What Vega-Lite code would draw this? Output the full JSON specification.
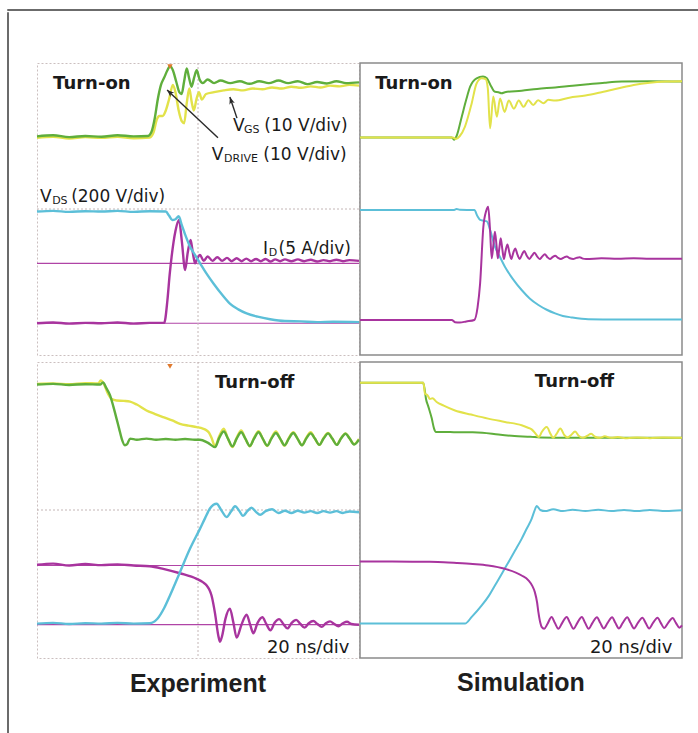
{
"$schema": "https://vega.github.io/schema/vega-lite/v6.json",
"background": "white",
"padding": {"left": 6, "top": 8, "right": 0, "bottom": 0},
"config": {
  "view": {"stroke": null},
  "axis": {"labels": false, "ticks": false, "domain": false, "grid": false, "minExtent": 0, "maxExtent": 0},
  "title": {"font": "Liberation Sans", "fontSize": 25, "fontWeight": "bold", "color": "#1e1e1e", "orient": "bottom", "anchor": "middle", "offset": 13},
  "text": {"font": "DejaVu Sans", "color": "#1a1a1a", "align": "left", "baseline": "alphabetic"},
  "line": {"interpolate": "monotone"}
},
"datasets": {
  "tl": [
    {"s":"VGS","t":0,"v":5.95},{"s":"VGS","t":0.5,"v":5.98},{"s":"VGS","t":1,"v":5.93},{"s":"VGS","t":1.5,"v":5.97},{"s":"VGS","t":2,"v":5.95},{"s":"VGS","t":2.5,"v":5.98},{"s":"VGS","t":3,"v":5.94},{"s":"VGS","t":3.5,"v":5.96},{"s":"VGS","t":3.62,"v":6.1},{"s":"VGS","t":3.72,"v":6.45},{"s":"VGS","t":3.8,"v":6.55},{"s":"VGS","t":3.9,"v":6.55},{"s":"VGS","t":4.0,"v":6.7},{"s":"VGS","t":4.1,"v":7.0},{"s":"VGS","t":4.22,"v":7.4},{"s":"VGS","t":4.3,"v":7.2},{"s":"VGS","t":4.4,"v":6.7},{"s":"VGS","t":4.5,"v":6.4},{"s":"VGS","t":4.57,"v":6.35},{"s":"VGS","t":4.65,"v":6.9},{"s":"VGS","t":4.73,"v":7.3},{"s":"VGS","t":4.8,"v":6.95},{"s":"VGS","t":4.87,"v":6.7},{"s":"VGS","t":4.95,"v":7.0},{"s":"VGS","t":5.03,"v":7.2},{"s":"VGS","t":5.12,"v":7.0},{"s":"VGS","t":5.25,"v":7.15},{"s":"VGS","t":5.5,"v":7.2},{"s":"VGS","t":5.8,"v":7.25},{"s":"VGS","t":6.1,"v":7.28},{"s":"VGS","t":6.4,"v":7.25},{"s":"VGS","t":6.7,"v":7.3},{"s":"VGS","t":7.0,"v":7.28},{"s":"VGS","t":7.3,"v":7.33},{"s":"VGS","t":7.6,"v":7.3},{"s":"VGS","t":7.9,"v":7.35},{"s":"VGS","t":8.2,"v":7.32},{"s":"VGS","t":8.5,"v":7.36},{"s":"VGS","t":8.8,"v":7.33},{"s":"VGS","t":9.1,"v":7.38},{"s":"VGS","t":9.4,"v":7.36},{"s":"VGS","t":9.7,"v":7.4},{"s":"VGS","t":10,"v":7.38},
    {"s":"VDRIVE","t":0,"v":5.99},{"s":"VDRIVE","t":0.5,"v":6.02},{"s":"VDRIVE","t":1,"v":5.97},{"s":"VDRIVE","t":1.5,"v":6.0},{"s":"VDRIVE","t":2,"v":5.98},{"s":"VDRIVE","t":2.5,"v":6.02},{"s":"VDRIVE","t":3,"v":5.99},{"s":"VDRIVE","t":3.45,"v":6.0},{"s":"VDRIVE","t":3.55,"v":6.1},{"s":"VDRIVE","t":3.66,"v":6.5},{"s":"VDRIVE","t":3.75,"v":7.0},{"s":"VDRIVE","t":3.85,"v":7.4},{"s":"VDRIVE","t":3.95,"v":7.6},{"s":"VDRIVE","t":4.05,"v":7.8},{"s":"VDRIVE","t":4.13,"v":7.92},{"s":"VDRIVE","t":4.22,"v":7.8},{"s":"VDRIVE","t":4.32,"v":7.5},{"s":"VDRIVE","t":4.42,"v":7.2},{"s":"VDRIVE","t":4.49,"v":7.15},{"s":"VDRIVE","t":4.57,"v":7.5},{"s":"VDRIVE","t":4.65,"v":7.85},{"s":"VDRIVE","t":4.72,"v":7.6},{"s":"VDRIVE","t":4.8,"v":7.35},{"s":"VDRIVE","t":4.88,"v":7.6},{"s":"VDRIVE","t":4.96,"v":7.8},{"s":"VDRIVE","t":5.05,"v":7.55},{"s":"VDRIVE","t":5.15,"v":7.45},{"s":"VDRIVE","t":5.3,"v":7.55},{"s":"VDRIVE","t":5.5,"v":7.45},{"s":"VDRIVE","t":5.7,"v":7.52},{"s":"VDRIVE","t":6.0,"v":7.45},{"s":"VDRIVE","t":6.3,"v":7.5},{"s":"VDRIVE","t":6.6,"v":7.43},{"s":"VDRIVE","t":6.9,"v":7.5},{"s":"VDRIVE","t":7.2,"v":7.45},{"s":"VDRIVE","t":7.5,"v":7.52},{"s":"VDRIVE","t":7.8,"v":7.45},{"s":"VDRIVE","t":8.1,"v":7.5},{"s":"VDRIVE","t":8.4,"v":7.42},{"s":"VDRIVE","t":8.7,"v":7.48},{"s":"VDRIVE","t":9.0,"v":7.44},{"s":"VDRIVE","t":9.3,"v":7.5},{"s":"VDRIVE","t":9.6,"v":7.45},{"s":"VDRIVE","t":10,"v":7.47},
    {"s":"ID","t":0,"v":0.87},{"s":"ID","t":0.5,"v":0.89},{"s":"ID","t":1,"v":0.86},{"s":"ID","t":1.5,"v":0.88},{"s":"ID","t":2,"v":0.87},{"s":"ID","t":2.5,"v":0.89},{"s":"ID","t":3,"v":0.86},{"s":"ID","t":3.5,"v":0.88},{"s":"ID","t":3.95,"v":0.88},{"s":"ID","t":4.05,"v":1.5},{"s":"ID","t":4.12,"v":2.2},{"s":"ID","t":4.18,"v":2.69},{"s":"ID","t":4.3,"v":3.4},{"s":"ID","t":4.41,"v":3.7},{"s":"ID","t":4.5,"v":3.1},{"s":"ID","t":4.6,"v":2.33},{"s":"ID","t":4.68,"v":2.8},{"s":"ID","t":4.77,"v":3.15},{"s":"ID","t":4.84,"v":2.8},{"s":"ID","t":4.91,"v":2.51},{"s":"ID","t":4.98,"v":2.65},{"s":"ID","t":5.06,"v":2.74},{"s":"ID","t":5.18,"v":2.58},{"s":"ID","t":5.3,"v":2.7},{"s":"ID","t":5.45,"v":2.58},{"s":"ID","t":5.6,"v":2.68},{"s":"ID","t":5.75,"v":2.58},{"s":"ID","t":5.9,"v":2.66},{"s":"ID","t":6.05,"v":2.57},{"s":"ID","t":6.2,"v":2.65},{"s":"ID","t":6.35,"v":2.57},{"s":"ID","t":6.5,"v":2.64},{"s":"ID","t":6.65,"v":2.57},{"s":"ID","t":6.8,"v":2.63},{"s":"ID","t":6.95,"v":2.57},{"s":"ID","t":7.1,"v":2.63},{"s":"ID","t":7.25,"v":2.56},{"s":"ID","t":7.4,"v":2.62},{"s":"ID","t":7.55,"v":2.57},{"s":"ID","t":7.7,"v":2.62},{"s":"ID","t":7.9,"v":2.57},{"s":"ID","t":8.1,"v":2.62},{"s":"ID","t":8.3,"v":2.57},{"s":"ID","t":8.5,"v":2.61},{"s":"ID","t":8.7,"v":2.56},{"s":"ID","t":8.9,"v":2.6},{"s":"ID","t":9.1,"v":2.57},{"s":"ID","t":9.3,"v":2.61},{"s":"ID","t":9.5,"v":2.57},{"s":"ID","t":9.7,"v":2.6},{"s":"ID","t":10,"v":2.58},
    {"s":"VDS","t":0,"v":3.93},{"s":"VDS","t":0.5,"v":3.95},{"s":"VDS","t":1,"v":3.92},{"s":"VDS","t":1.5,"v":3.94},{"s":"VDS","t":2,"v":3.93},{"s":"VDS","t":2.5,"v":3.95},{"s":"VDS","t":3,"v":3.92},{"s":"VDS","t":3.5,"v":3.94},{"s":"VDS","t":4.0,"v":3.93},{"s":"VDS","t":4.1,"v":3.82},{"s":"VDS","t":4.2,"v":3.7},{"s":"VDS","t":4.3,"v":3.72},{"s":"VDS","t":4.4,"v":3.8},{"s":"VDS","t":4.5,"v":3.55},{"s":"VDS","t":4.6,"v":3.3},{"s":"VDS","t":4.75,"v":2.97},{"s":"VDS","t":4.9,"v":2.75},{"s":"VDS","t":5.06,"v":2.52},{"s":"VDS","t":5.25,"v":2.25},{"s":"VDS","t":5.48,"v":1.96},{"s":"VDS","t":5.75,"v":1.65},{"s":"VDS","t":5.99,"v":1.41},{"s":"VDS","t":6.25,"v":1.25},{"s":"VDS","t":6.51,"v":1.14},{"s":"VDS","t":6.85,"v":1.05},{"s":"VDS","t":7.24,"v":0.98},{"s":"VDS","t":7.7,"v":0.93},{"s":"VDS","t":8.2,"v":0.92},{"s":"VDS","t":8.7,"v":0.9},{"s":"VDS","t":9.2,"v":0.91},{"s":"VDS","t":10,"v":0.9}
  ],
  "tr": [
    {"s":"VDRIVE","t":0,"v":5.96},{"s":"VDRIVE","t":2.85,"v":5.96},{"s":"VDRIVE","t":2.92,"v":5.9},{"s":"VDRIVE","t":3.0,"v":6.0},{"s":"VDRIVE","t":3.16,"v":6.53},{"s":"VDRIVE","t":3.3,"v":7.0},{"s":"VDRIVE","t":3.42,"v":7.35},{"s":"VDRIVE","t":3.62,"v":7.58},{"s":"VDRIVE","t":3.82,"v":7.63},{"s":"VDRIVE","t":3.94,"v":7.58},{"s":"VDRIVE","t":4.05,"v":7.4},{"s":"VDRIVE","t":4.19,"v":7.21},{"s":"VDRIVE","t":4.3,"v":7.2},{"s":"VDRIVE","t":4.4,"v":7.17},{"s":"VDRIVE","t":4.5,"v":7.2},{"s":"VDRIVE","t":5.02,"v":7.24},{"s":"VDRIVE","t":5.5,"v":7.29},{"s":"VDRIVE","t":6.06,"v":7.33},{"s":"VDRIVE","t":6.6,"v":7.38},{"s":"VDRIVE","t":7.09,"v":7.42},{"s":"VDRIVE","t":7.6,"v":7.46},{"s":"VDRIVE","t":8.13,"v":7.49},{"s":"VDRIVE","t":9,"v":7.5},{"s":"VDRIVE","t":10,"v":7.49},
    {"s":"VGS","t":0,"v":5.96},{"s":"VGS","t":2.88,"v":5.96},{"s":"VGS","t":2.98,"v":5.92},{"s":"VGS","t":3.1,"v":6.0},{"s":"VGS","t":3.26,"v":6.26},{"s":"VGS","t":3.47,"v":6.9},{"s":"VGS","t":3.62,"v":7.44},{"s":"VGS","t":3.78,"v":7.58},{"s":"VGS","t":3.9,"v":7.56},{"s":"VGS","t":3.97,"v":7.3},{"s":"VGS","t":4.04,"v":6.21},{"s":"VGS","t":4.14,"v":7.08},{"s":"VGS","t":4.25,"v":6.53},{"s":"VGS","t":4.35,"v":7.03},{"s":"VGS","t":4.49,"v":6.66},{"s":"VGS","t":4.62,"v":6.97},{"s":"VGS","t":4.78,"v":6.75},{"s":"VGS","t":4.93,"v":6.97},{"s":"VGS","t":5.08,"v":6.8},{"s":"VGS","t":5.23,"v":6.98},{"s":"VGS","t":5.38,"v":6.85},{"s":"VGS","t":5.53,"v":6.98},{"s":"VGS","t":5.7,"v":6.9},{"s":"VGS","t":5.85,"v":6.99},{"s":"VGS","t":6.06,"v":6.97},{"s":"VGS","t":6.5,"v":7.05},{"s":"VGS","t":7.0,"v":7.11},{"s":"VGS","t":7.5,"v":7.2},{"s":"VGS","t":8.0,"v":7.3},{"s":"VGS","t":8.5,"v":7.4},{"s":"VGS","t":9.0,"v":7.46},{"s":"VGS","t":9.5,"v":7.49},{"s":"VGS","t":10,"v":7.5},
    {"s":"VDS","t":0,"v":3.97},{"s":"VDS","t":2.9,"v":3.97},{"s":"VDS","t":3.0,"v":4.0},{"s":"VDS","t":3.1,"v":3.98},{"s":"VDS","t":3.55,"v":3.97},{"s":"VDS","t":3.65,"v":3.8},{"s":"VDS","t":3.73,"v":3.7},{"s":"VDS","t":3.83,"v":3.68},{"s":"VDS","t":3.94,"v":3.66},{"s":"VDS","t":4.05,"v":3.4},{"s":"VDS","t":4.19,"v":2.97},{"s":"VDS","t":4.35,"v":2.68},{"s":"VDS","t":4.5,"v":2.42},{"s":"VDS","t":4.75,"v":2.08},{"s":"VDS","t":5.02,"v":1.78},{"s":"VDS","t":5.27,"v":1.55},{"s":"VDS","t":5.54,"v":1.37},{"s":"VDS","t":5.8,"v":1.24},{"s":"VDS","t":6.06,"v":1.14},{"s":"VDS","t":6.3,"v":1.07},{"s":"VDS","t":6.57,"v":1.03},{"s":"VDS","t":7.09,"v":0.98},{"s":"VDS","t":8,"v":0.97},{"s":"VDS","t":10,"v":0.97},
    {"s":"ID","t":0,"v":0.96},{"s":"ID","t":2.85,"v":0.96},{"s":"ID","t":2.95,"v":0.9},{"s":"ID","t":3.1,"v":0.89},{"s":"ID","t":3.3,"v":0.92},{"s":"ID","t":3.55,"v":0.96},{"s":"ID","t":3.65,"v":1.3},{"s":"ID","t":3.73,"v":1.96},{"s":"ID","t":3.83,"v":3.5},{"s":"ID","t":3.92,"v":3.95},{"s":"ID","t":3.98,"v":4.06},{"s":"ID","t":4.04,"v":3.4},{"s":"ID","t":4.09,"v":2.65},{"s":"ID","t":4.14,"v":3.0},{"s":"ID","t":4.19,"v":3.38},{"s":"ID","t":4.24,"v":3.0},{"s":"ID","t":4.28,"v":2.65},{"s":"ID","t":4.33,"v":2.95},{"s":"ID","t":4.37,"v":3.2},{"s":"ID","t":4.42,"v":2.9},{"s":"ID","t":4.47,"v":2.63},{"s":"ID","t":4.52,"v":2.85},{"s":"ID","t":4.58,"v":3.03},{"s":"ID","t":4.64,"v":2.8},{"s":"ID","t":4.7,"v":2.63},{"s":"ID","t":4.76,"v":2.8},{"s":"ID","t":4.82,"v":2.92},{"s":"ID","t":4.89,"v":2.75},{"s":"ID","t":4.96,"v":2.63},{"s":"ID","t":5.03,"v":2.75},{"s":"ID","t":5.1,"v":2.85},{"s":"ID","t":5.18,"v":2.72},{"s":"ID","t":5.26,"v":2.63},{"s":"ID","t":5.34,"v":2.72},{"s":"ID","t":5.42,"v":2.8},{"s":"ID","t":5.5,"v":2.7},{"s":"ID","t":5.58,"v":2.63},{"s":"ID","t":5.66,"v":2.7},{"s":"ID","t":5.74,"v":2.76},{"s":"ID","t":5.82,"v":2.68},{"s":"ID","t":5.9,"v":2.63},{"s":"ID","t":5.98,"v":2.68},{"s":"ID","t":6.06,"v":2.72},{"s":"ID","t":6.15,"v":2.66},{"s":"ID","t":6.24,"v":2.63},{"s":"ID","t":6.33,"v":2.67},{"s":"ID","t":6.42,"v":2.7},{"s":"ID","t":6.52,"v":2.65},{"s":"ID","t":6.62,"v":2.63},{"s":"ID","t":6.72,"v":2.66},{"s":"ID","t":6.82,"v":2.68},{"s":"ID","t":6.92,"v":2.64},{"s":"ID","t":7.02,"v":2.63},{"s":"ID","t":7.5,"v":2.65},{"s":"ID","t":8,"v":2.64},{"s":"ID","t":8.5,"v":2.65},{"s":"ID","t":9,"v":2.64},{"s":"ID","t":10,"v":2.64}
  ],
  "bl": [
    {"s":"VGS","t":0,"v":7.41},{"s":"VGS","t":0.5,"v":7.42},{"s":"VGS","t":1,"v":7.4},{"s":"VGS","t":1.5,"v":7.43},{"s":"VGS","t":1.9,"v":7.42},{"s":"VGS","t":1.98,"v":7.5},{"s":"VGS","t":2.08,"v":7.4},{"s":"VGS","t":2.2,"v":7.15},{"s":"VGS","t":2.32,"v":7.0},{"s":"VGS","t":2.47,"v":6.96},{"s":"VGS","t":2.7,"v":6.95},{"s":"VGS","t":2.89,"v":6.93},{"s":"VGS","t":3.1,"v":6.85},{"s":"VGS","t":3.4,"v":6.69},{"s":"VGS","t":3.65,"v":6.6},{"s":"VGS","t":3.92,"v":6.51},{"s":"VGS","t":4.2,"v":6.42},{"s":"VGS","t":4.44,"v":6.33},{"s":"VGS","t":4.7,"v":6.28},{"s":"VGS","t":4.96,"v":6.24},{"s":"VGS","t":5.15,"v":6.2},{"s":"VGS","t":5.27,"v":6.15},{"s":"VGS","t":5.35,"v":6.08},{"s":"VGS","t":5.42,"v":5.95},{"s":"VGS","t":5.53,"v":5.72},{"s":"VGS","t":5.66,"v":6.0},{"s":"VGS","t":5.8,"v":6.2},{"s":"VGS","t":5.93,"v":5.93},{"s":"VGS","t":6.07,"v":5.7},{"s":"VGS","t":6.2,"v":5.95},{"s":"VGS","t":6.34,"v":6.15},{"s":"VGS","t":6.47,"v":5.93},{"s":"VGS","t":6.61,"v":5.72},{"s":"VGS","t":6.74,"v":5.95},{"s":"VGS","t":6.88,"v":6.13},{"s":"VGS","t":7.01,"v":5.93},{"s":"VGS","t":7.15,"v":5.73},{"s":"VGS","t":7.28,"v":5.95},{"s":"VGS","t":7.42,"v":6.12},{"s":"VGS","t":7.55,"v":5.93},{"s":"VGS","t":7.69,"v":5.74},{"s":"VGS","t":7.82,"v":5.95},{"s":"VGS","t":7.96,"v":6.1},{"s":"VGS","t":8.09,"v":5.93},{"s":"VGS","t":8.23,"v":5.75},{"s":"VGS","t":8.36,"v":5.95},{"s":"VGS","t":8.5,"v":6.1},{"s":"VGS","t":8.63,"v":5.93},{"s":"VGS","t":8.77,"v":5.76},{"s":"VGS","t":8.9,"v":5.95},{"s":"VGS","t":9.04,"v":6.08},{"s":"VGS","t":9.17,"v":5.93},{"s":"VGS","t":9.31,"v":5.77},{"s":"VGS","t":9.44,"v":5.94},{"s":"VGS","t":9.58,"v":6.07},{"s":"VGS","t":9.71,"v":5.93},{"s":"VGS","t":9.85,"v":5.78},{"s":"VGS","t":10,"v":5.92},
    {"s":"VDRIVE","t":0,"v":7.39},{"s":"VDRIVE","t":0.5,"v":7.41},{"s":"VDRIVE","t":1,"v":7.38},{"s":"VDRIVE","t":1.5,"v":7.4},{"s":"VDRIVE","t":1.96,"v":7.39},{"s":"VDRIVE","t":2.05,"v":7.45},{"s":"VDRIVE","t":2.15,"v":7.3},{"s":"VDRIVE","t":2.27,"v":7.1},{"s":"VDRIVE","t":2.37,"v":6.8},{"s":"VDRIVE","t":2.47,"v":6.47},{"s":"VDRIVE","t":2.55,"v":6.2},{"s":"VDRIVE","t":2.63,"v":5.93},{"s":"VDRIVE","t":2.73,"v":5.75},{"s":"VDRIVE","t":2.8,"v":5.78},{"s":"VDRIVE","t":2.89,"v":5.93},{"s":"VDRIVE","t":3.1,"v":5.9},{"s":"VDRIVE","t":3.4,"v":5.93},{"s":"VDRIVE","t":3.7,"v":5.9},{"s":"VDRIVE","t":4.0,"v":5.92},{"s":"VDRIVE","t":4.3,"v":5.9},{"s":"VDRIVE","t":4.6,"v":5.92},{"s":"VDRIVE","t":4.9,"v":5.9},{"s":"VDRIVE","t":5.06,"v":5.9},{"s":"VDRIVE","t":5.3,"v":5.82},{"s":"VDRIVE","t":5.53,"v":5.7},{"s":"VDRIVE","t":5.66,"v":5.95},{"s":"VDRIVE","t":5.8,"v":6.12},{"s":"VDRIVE","t":5.93,"v":5.93},{"s":"VDRIVE","t":6.07,"v":5.72},{"s":"VDRIVE","t":6.2,"v":5.93},{"s":"VDRIVE","t":6.34,"v":6.1},{"s":"VDRIVE","t":6.47,"v":5.93},{"s":"VDRIVE","t":6.61,"v":5.73},{"s":"VDRIVE","t":6.74,"v":5.93},{"s":"VDRIVE","t":6.88,"v":6.1},{"s":"VDRIVE","t":7.01,"v":5.93},{"s":"VDRIVE","t":7.15,"v":5.74},{"s":"VDRIVE","t":7.28,"v":5.93},{"s":"VDRIVE","t":7.42,"v":6.08},{"s":"VDRIVE","t":7.55,"v":5.93},{"s":"VDRIVE","t":7.69,"v":5.75},{"s":"VDRIVE","t":7.82,"v":5.93},{"s":"VDRIVE","t":7.96,"v":6.08},{"s":"VDRIVE","t":8.09,"v":5.93},{"s":"VDRIVE","t":8.23,"v":5.75},{"s":"VDRIVE","t":8.36,"v":5.93},{"s":"VDRIVE","t":8.5,"v":6.07},{"s":"VDRIVE","t":8.63,"v":5.93},{"s":"VDRIVE","t":8.77,"v":5.76},{"s":"VDRIVE","t":8.9,"v":5.93},{"s":"VDRIVE","t":9.04,"v":6.07},{"s":"VDRIVE","t":9.17,"v":5.93},{"s":"VDRIVE","t":9.31,"v":5.76},{"s":"VDRIVE","t":9.44,"v":5.93},{"s":"VDRIVE","t":9.58,"v":6.06},{"s":"VDRIVE","t":9.71,"v":5.93},{"s":"VDRIVE","t":9.85,"v":5.77},{"s":"VDRIVE","t":10,"v":5.9},
    {"s":"ID","t":0,"v":2.52},{"s":"ID","t":0.5,"v":2.55},{"s":"ID","t":1,"v":2.5},{"s":"ID","t":1.5,"v":2.54},{"s":"ID","t":2,"v":2.51},{"s":"ID","t":2.5,"v":2.53},{"s":"ID","t":3,"v":2.5},{"s":"ID","t":3.5,"v":2.48},{"s":"ID","t":3.92,"v":2.41},{"s":"ID","t":4.44,"v":2.29},{"s":"ID","t":4.96,"v":2.14},{"s":"ID","t":5.15,"v":2.05},{"s":"ID","t":5.27,"v":1.96},{"s":"ID","t":5.35,"v":1.85},{"s":"ID","t":5.42,"v":1.69},{"s":"ID","t":5.53,"v":1.2},{"s":"ID","t":5.63,"v":0.61},{"s":"ID","t":5.68,"v":0.44},{"s":"ID","t":5.75,"v":0.6},{"s":"ID","t":5.85,"v":1.05},{"s":"ID","t":5.99,"v":1.33},{"s":"ID","t":6.1,"v":0.95},{"s":"ID","t":6.2,"v":0.55},{"s":"ID","t":6.35,"v":0.9},{"s":"ID","t":6.51,"v":1.17},{"s":"ID","t":6.62,"v":0.9},{"s":"ID","t":6.72,"v":0.67},{"s":"ID","t":6.85,"v":0.95},{"s":"ID","t":7.0,"v":1.1},{"s":"ID","t":7.12,"v":0.92},{"s":"ID","t":7.25,"v":0.75},{"s":"ID","t":7.38,"v":0.95},{"s":"ID","t":7.52,"v":1.05},{"s":"ID","t":7.65,"v":0.92},{"s":"ID","t":7.78,"v":0.8},{"s":"ID","t":7.91,"v":0.95},{"s":"ID","t":8.05,"v":1.03},{"s":"ID","t":8.18,"v":0.92},{"s":"ID","t":8.31,"v":0.82},{"s":"ID","t":8.44,"v":0.94},{"s":"ID","t":8.58,"v":1.0},{"s":"ID","t":8.71,"v":0.92},{"s":"ID","t":8.84,"v":0.84},{"s":"ID","t":8.97,"v":0.94},{"s":"ID","t":9.1,"v":0.99},{"s":"ID","t":9.23,"v":0.92},{"s":"ID","t":9.36,"v":0.86},{"s":"ID","t":9.5,"v":0.94},{"s":"ID","t":9.63,"v":0.98},{"s":"ID","t":9.76,"v":0.92},{"s":"ID","t":10,"v":0.9},
    {"s":"VDS","t":0,"v":0.93},{"s":"VDS","t":0.5,"v":0.95},{"s":"VDS","t":1,"v":0.92},{"s":"VDS","t":1.5,"v":0.94},{"s":"VDS","t":2,"v":0.93},{"s":"VDS","t":2.5,"v":0.95},{"s":"VDS","t":3,"v":0.93},{"s":"VDS","t":3.5,"v":0.94},{"s":"VDS","t":3.74,"v":1.06},{"s":"VDS","t":3.95,"v":1.35},{"s":"VDS","t":4.13,"v":1.69},{"s":"VDS","t":4.44,"v":2.32},{"s":"VDS","t":4.75,"v":2.95},{"s":"VDS","t":5.06,"v":3.49},{"s":"VDS","t":5.22,"v":3.78},{"s":"VDS","t":5.37,"v":4.04},{"s":"VDS","t":5.48,"v":4.14},{"s":"VDS","t":5.58,"v":4.17},{"s":"VDS","t":5.72,"v":4.0},{"s":"VDS","t":5.89,"v":3.81},{"s":"VDS","t":6.02,"v":3.95},{"s":"VDS","t":6.15,"v":4.1},{"s":"VDS","t":6.28,"v":3.98},{"s":"VDS","t":6.4,"v":3.84},{"s":"VDS","t":6.53,"v":3.97},{"s":"VDS","t":6.66,"v":4.06},{"s":"VDS","t":6.8,"v":3.95},{"s":"VDS","t":6.93,"v":3.87},{"s":"VDS","t":7.1,"v":3.97},{"s":"VDS","t":7.3,"v":4.02},{"s":"VDS","t":7.5,"v":3.92},{"s":"VDS","t":7.7,"v":3.98},{"s":"VDS","t":7.9,"v":3.92},{"s":"VDS","t":8.1,"v":3.98},{"s":"VDS","t":8.3,"v":3.93},{"s":"VDS","t":8.5,"v":3.97},{"s":"VDS","t":8.7,"v":3.92},{"s":"VDS","t":8.9,"v":3.97},{"s":"VDS","t":9.1,"v":3.93},{"s":"VDS","t":9.3,"v":3.97},{"s":"VDS","t":9.5,"v":3.92},{"s":"VDS","t":9.7,"v":3.96},{"s":"VDS","t":10,"v":3.94}
  ],
  "br": [
    {"s":"VDRIVE","t":0,"v":7.44},{"s":"VDRIVE","t":1.96,"v":7.44},{"s":"VDRIVE","t":2.0,"v":7.3},{"s":"VDRIVE","t":2.05,"v":7.0},{"s":"VDRIVE","t":2.12,"v":6.8},{"s":"VDRIVE","t":2.23,"v":6.47},{"s":"VDRIVE","t":2.3,"v":6.2},{"s":"VDRIVE","t":2.36,"v":6.11},{"s":"VDRIVE","t":2.6,"v":6.11},{"s":"VDRIVE","t":3.0,"v":6.1},{"s":"VDRIVE","t":3.5,"v":6.1},{"s":"VDRIVE","t":3.8,"v":6.09},{"s":"VDRIVE","t":4.3,"v":6.04},{"s":"VDRIVE","t":4.8,"v":6.0},{"s":"VDRIVE","t":5.3,"v":5.98},{"s":"VDRIVE","t":5.6,"v":5.96},{"s":"VDRIVE","t":6.5,"v":5.95},{"s":"VDRIVE","t":8,"v":5.95},{"s":"VDRIVE","t":10,"v":5.95},
    {"s":"VGS","t":0,"v":7.44},{"s":"VGS","t":1.97,"v":7.44},{"s":"VGS","t":2.02,"v":7.14},{"s":"VGS","t":2.1,"v":7.1},{"s":"VGS","t":2.17,"v":7.0},{"s":"VGS","t":2.25,"v":7.02},{"s":"VGS","t":2.38,"v":6.92},{"s":"VGS","t":2.6,"v":6.82},{"s":"VGS","t":2.95,"v":6.69},{"s":"VGS","t":3.45,"v":6.58},{"s":"VGS","t":3.98,"v":6.47},{"s":"VGS","t":4.5,"v":6.38},{"s":"VGS","t":5.02,"v":6.29},{"s":"VGS","t":5.2,"v":6.23},{"s":"VGS","t":5.33,"v":6.18},{"s":"VGS","t":5.42,"v":6.1},{"s":"VGS","t":5.49,"v":6.02},{"s":"VGS","t":5.56,"v":5.97},{"s":"VGS","t":5.64,"v":6.1},{"s":"VGS","t":5.8,"v":6.24},{"s":"VGS","t":5.92,"v":6.05},{"s":"VGS","t":6.0,"v":5.95},{"s":"VGS","t":6.1,"v":6.05},{"s":"VGS","t":6.22,"v":6.2},{"s":"VGS","t":6.35,"v":6.02},{"s":"VGS","t":6.45,"v":5.96},{"s":"VGS","t":6.55,"v":6.02},{"s":"VGS","t":6.68,"v":6.12},{"s":"VGS","t":6.8,"v":6.0},{"s":"VGS","t":6.92,"v":5.95},{"s":"VGS","t":7.05,"v":6.0},{"s":"VGS","t":7.18,"v":6.06},{"s":"VGS","t":7.3,"v":5.98},{"s":"VGS","t":7.45,"v":5.95},{"s":"VGS","t":7.6,"v":5.99},{"s":"VGS","t":7.8,"v":5.95},{"s":"VGS","t":8.0,"v":5.97},{"s":"VGS","t":8.3,"v":5.94},{"s":"VGS","t":8.6,"v":5.96},{"s":"VGS","t":9.0,"v":5.94},{"s":"VGS","t":9.4,"v":5.96},{"s":"VGS","t":10,"v":5.95},
    {"s":"VDS","t":0,"v":0.93},{"s":"VDS","t":3.26,"v":0.93},{"s":"VDS","t":3.47,"v":1.11},{"s":"VDS","t":3.78,"v":1.42},{"s":"VDS","t":4.0,"v":1.68},{"s":"VDS","t":4.19,"v":1.96},{"s":"VDS","t":4.4,"v":2.27},{"s":"VDS","t":4.61,"v":2.59},{"s":"VDS","t":4.82,"v":2.91},{"s":"VDS","t":5.02,"v":3.22},{"s":"VDS","t":5.18,"v":3.5},{"s":"VDS","t":5.33,"v":3.76},{"s":"VDS","t":5.42,"v":3.98},{"s":"VDS","t":5.49,"v":4.11},{"s":"VDS","t":5.6,"v":4.0},{"s":"VDS","t":5.75,"v":3.97},{"s":"VDS","t":6.0,"v":4.02},{"s":"VDS","t":6.3,"v":3.97},{"s":"VDS","t":6.6,"v":4.01},{"s":"VDS","t":7,"v":3.97},{"s":"VDS","t":7.4,"v":4.01},{"s":"VDS","t":7.8,"v":3.97},{"s":"VDS","t":8.2,"v":4.0},{"s":"VDS","t":8.6,"v":3.97},{"s":"VDS","t":9,"v":4.0},{"s":"VDS","t":9.5,"v":3.97},{"s":"VDS","t":10,"v":3.99},
    {"s":"ID","t":0,"v":2.61},{"s":"ID","t":1,"v":2.61},{"s":"ID","t":2,"v":2.6},{"s":"ID","t":2.6,"v":2.59},{"s":"ID","t":3.0,"v":2.57},{"s":"ID","t":3.5,"v":2.54},{"s":"ID","t":3.98,"v":2.5},{"s":"ID","t":4.5,"v":2.41},{"s":"ID","t":5.02,"v":2.23},{"s":"ID","t":5.23,"v":2.1},{"s":"ID","t":5.35,"v":1.95},{"s":"ID","t":5.43,"v":1.78},{"s":"ID","t":5.5,"v":1.5},{"s":"ID","t":5.54,"v":1.24},{"s":"ID","t":5.6,"v":0.95},{"s":"ID","t":5.64,"v":0.84},{"s":"ID","t":5.72,"v":0.79},{"s":"ID","t":5.82,"v":0.92},{"s":"ID","t":5.95,"v":1.11},{"s":"ID","t":6.05,"v":0.95},{"s":"ID","t":6.16,"v":0.79},{"s":"ID","t":6.28,"v":0.95},{"s":"ID","t":6.42,"v":1.11},{"s":"ID","t":6.52,"v":0.95},{"s":"ID","t":6.63,"v":0.79},{"s":"ID","t":6.75,"v":0.95},{"s":"ID","t":6.89,"v":1.11},{"s":"ID","t":6.99,"v":0.95},{"s":"ID","t":7.1,"v":0.79},{"s":"ID","t":7.22,"v":0.95},{"s":"ID","t":7.36,"v":1.1},{"s":"ID","t":7.46,"v":0.95},{"s":"ID","t":7.57,"v":0.8},{"s":"ID","t":7.69,"v":0.95},{"s":"ID","t":7.83,"v":1.1},{"s":"ID","t":7.93,"v":0.95},{"s":"ID","t":8.04,"v":0.8},{"s":"ID","t":8.16,"v":0.95},{"s":"ID","t":8.3,"v":1.1},{"s":"ID","t":8.4,"v":0.95},{"s":"ID","t":8.51,"v":0.8},{"s":"ID","t":8.63,"v":0.95},{"s":"ID","t":8.77,"v":1.09},{"s":"ID","t":8.87,"v":0.95},{"s":"ID","t":8.98,"v":0.8},{"s":"ID","t":9.1,"v":0.95},{"s":"ID","t":9.24,"v":1.09},{"s":"ID","t":9.34,"v":0.95},{"s":"ID","t":9.45,"v":0.81},{"s":"ID","t":9.57,"v":0.95},{"s":"ID","t":9.71,"v":1.08},{"s":"ID","t":9.81,"v":0.95},{"s":"ID","t":9.92,"v":0.82},{"s":"ID","t":10,"v":0.88}
  ]
},
"spacing": 0,
"vconcat": [
  {"width": 692, "height": 1, "data": {"values": []}, "mark": "point", "encoding": {}, "view": {"stroke": "#6b6b6b", "strokeWidth": 1}},
  {"spacing": 22, "hconcat": [
    {"width": 1, "height": 724, "data": {"values": []}, "mark": "point", "encoding": {}, "view": {"stroke": "#6b6b6b", "strokeWidth": 1}},
    {"spacing": 5, "vconcat": [
      {"width": 1, "height": 43, "data": {"values": []}, "mark": "point", "encoding": {}},
      {"spacing": 1, "bounds": "flush", "hconcat": [
        {"width": 322, "height": 292,
         "view": {"stroke": "#cbbfbf", "strokeDash": [2, 2], "strokeWidth": 1},
         "layer": [
           {"data": {"values": [{"v": 2.51}, {"v": 0.87}]}, "mark": {"type": "rule", "color": "#b044a6", "strokeWidth": 1.2},
            "encoding": {"y": {"field": "v", "type": "quantitative", "scale": {"domain": [0, 8], "nice": false, "zero": false}, "axis": null}}},
           {"data": {"values": [{"t": 5}]}, "mark": {"type": "rule", "color": "#c4b6b6", "strokeDash": [2, 2], "strokeWidth": 1},
            "encoding": {"x": {"field": "t", "type": "quantitative", "scale": {"domain": [0, 10], "nice": false, "zero": false}, "axis": null}}},
           {"data": {"values": [{"v": 4}]}, "mark": {"type": "rule", "color": "#c4b6b6", "strokeDash": [2, 2], "strokeWidth": 1},
            "encoding": {"y": {"field": "v", "type": "quantitative", "scale": {"domain": [0, 8], "nice": false, "zero": false}, "axis": null}}},
           {"data": {"name": "tl"}, "mark": {"type": "line", "strokeWidth": 2.4},
            "encoding": {
              "x": {"field": "t", "type": "quantitative", "scale": {"domain": [0, 10], "nice": false, "zero": false}, "axis": null},
              "y": {"field": "v", "type": "quantitative", "scale": {"domain": [0, 8], "nice": false, "zero": false}, "axis": null},
              "color": {"field": "s", "type": "nominal", "scale": {"domain": ["VDRIVE", "VGS", "VDS", "ID"], "range": ["#5fae3c", "#e2e24a", "#5cbfd8", "#a8349e"]}, "legend": null}}},
           {"data": {"values": [{"t": 5.62, "v": 5.95, "t2": 4.04, "v2": 7.26}, {"t": 6.21, "v": 6.49, "t2": 5.99, "v2": 7.07}]}, "mark": {"type": "rule", "color": "#2a2a2a", "strokeWidth": 1.4},
            "encoding": {
              "x": {"field": "t", "type": "quantitative", "scale": {"domain": [0, 10], "nice": false, "zero": false}, "axis": null},
              "y": {"field": "v", "type": "quantitative", "scale": {"domain": [0, 8], "nice": false, "zero": false}, "axis": null},
              "x2": {"field": "t2"}, "y2": {"field": "v2"}}},
           {"data": {"values": [{"t": 4.04, "v": 7.26}]}, "mark": {"type": "point", "shape": "M0,0L0.7,1.8L0,1.3L-0.7,1.8Z", "filled": true, "color": "#2a2a2a", "opacity": 1, "size": 64, "angle": 313},
            "encoding": {
              "x": {"field": "t", "type": "quantitative", "scale": {"domain": [0, 10], "nice": false, "zero": false}, "axis": null},
              "y": {"field": "v", "type": "quantitative", "scale": {"domain": [0, 8], "nice": false, "zero": false}, "axis": null}}},
           {"data": {"values": [{"t": 5.99, "v": 7.07}]}, "mark": {"type": "point", "shape": "M0,0L0.7,1.8L0,1.3L-0.7,1.8Z", "filled": true, "color": "#2a2a2a", "opacity": 1, "size": 64, "angle": 342},
            "encoding": {
              "x": {"field": "t", "type": "quantitative", "scale": {"domain": [0, 10], "nice": false, "zero": false}, "axis": null},
              "y": {"field": "v", "type": "quantitative", "scale": {"domain": [0, 8], "nice": false, "zero": false}, "axis": null}}},
           {"data": {"values": [{"t": 4.13, "v": 7.9}]}, "mark": {"type": "point", "shape": "triangle-down", "filled": true, "color": "#e07a2e", "opacity": 1, "size": 30},
            "encoding": {
              "x": {"field": "t", "type": "quantitative", "scale": {"domain": [0, 10], "nice": false, "zero": false}, "axis": null},
              "y": {"field": "v", "type": "quantitative", "scale": {"domain": [0, 8], "nice": false, "zero": false}, "axis": null}}},
           {"data": {"values": [{"t": 0.5, "v": 7.29, "text": "Turn-on"}]}, "mark": {"type": "text", "fontSize": 18, "fontWeight": "bold"},
            "encoding": {
              "x": {"field": "t", "type": "quantitative", "scale": {"domain": [0, 10], "nice": false, "zero": false}, "axis": null},
              "y": {"field": "v", "type": "quantitative", "scale": {"domain": [0, 8], "nice": false, "zero": false}, "axis": null},
              "text": {"field": "text"}}},
           {"data": {"values": [{"t": 6.09, "v": 6.14, "text": "V"}, {"t": 7.06, "v": 6.14, "text": "(10 V/div)"}, {"t": 5.43, "v": 5.34, "text": "V"}, {"t": 7.03, "v": 5.34, "text": "(10 V/div)"}, {"t": 0.09, "v": 4.19, "text": "V"}, {"t": 1.06, "v": 4.19, "text": "(200 V/div)"}, {"t": 7.02, "v": 2.77, "text": "I"}, {"t": 7.5, "v": 2.77, "text": "(5 A/div)"}]},
            "mark": {"type": "text", "fontSize": 17},
            "encoding": {
              "x": {"field": "t", "type": "quantitative", "scale": {"domain": [0, 10], "nice": false, "zero": false}, "axis": null},
              "y": {"field": "v", "type": "quantitative", "scale": {"domain": [0, 8], "nice": false, "zero": false}, "axis": null},
              "text": {"field": "text"}}},
           {"data": {"values": [{"t": 6.43, "v": 6.08, "text": "GS"}, {"t": 5.81, "v": 5.28, "text": "DRIVE"}, {"t": 0.47, "v": 4.13, "text": "DS"}, {"t": 7.2, "v": 2.71, "text": "D"}]},
            "mark": {"type": "text", "fontSize": 11},
            "encoding": {
              "x": {"field": "t", "type": "quantitative", "scale": {"domain": [0, 10], "nice": false, "zero": false}, "axis": null},
              "y": {"field": "v", "type": "quantitative", "scale": {"domain": [0, 8], "nice": false, "zero": false}, "axis": null},
              "text": {"field": "text"}}}
         ]},
        {"width": 322, "height": 292,
         "view": {"stroke": "#8a8a8a", "strokeWidth": 1.5},
         "layer": [
           {"data": {"name": "tr"}, "mark": {"type": "line", "strokeWidth": 2},
            "encoding": {
              "x": {"field": "t", "type": "quantitative", "scale": {"domain": [0, 10], "nice": false, "zero": false}, "axis": {"title": null, "values": [1, 2, 3, 4, 5, 6, 7, 8, 9], "grid": true, "gridColor": "#a9a9a9", "gridDash": [3, 2], "gridWidth": 1}},
              "y": {"field": "v", "type": "quantitative", "scale": {"domain": [0, 8], "nice": false, "zero": false}, "axis": {"title": null, "values": [1, 2, 3, 4, 5, 6, 7], "grid": true, "gridColor": "#a9a9a9", "gridDash": [3, 2], "gridWidth": 1}},
              "color": {"field": "s", "type": "nominal", "scale": {"domain": ["VDRIVE", "VGS", "VDS", "ID"], "range": ["#5fae3c", "#e2e24a", "#5cbfd8", "#a8349e"]}, "legend": null}}},
           {"data": {"values": [{"t": 0.47, "v": 7.29, "text": "Turn-on"}]}, "mark": {"type": "text", "fontSize": 18, "fontWeight": "bold"},
            "encoding": {
              "x": {"field": "t", "type": "quantitative", "scale": {"domain": [0, 10], "nice": false, "zero": false}, "axis": null},
              "y": {"field": "v", "type": "quantitative", "scale": {"domain": [0, 8], "nice": false, "zero": false}, "axis": null},
              "text": {"field": "text"}}}
         ]}
      ]},
      {"spacing": 1, "bounds": "flush", "hconcat": [
        {"width": 322, "height": 296,
         "title": {"text": "Experiment"},
         "view": {"stroke": "#cbbfbf", "strokeDash": [2, 2], "strokeWidth": 1},
         "layer": [
           {"data": {"values": [{"v": 2.5}, {"v": 0.9}]}, "mark": {"type": "rule", "color": "#b044a6", "strokeWidth": 1.2},
            "encoding": {"y": {"field": "v", "type": "quantitative", "scale": {"domain": [0, 8], "nice": false, "zero": false}, "axis": null}}},
           {"data": {"values": [{"t": 5}]}, "mark": {"type": "rule", "color": "#c4b6b6", "strokeDash": [2, 2], "strokeWidth": 1},
            "encoding": {"x": {"field": "t", "type": "quantitative", "scale": {"domain": [0, 10], "nice": false, "zero": false}, "axis": null}}},
           {"data": {"values": [{"v": 4}]}, "mark": {"type": "rule", "color": "#c4b6b6", "strokeDash": [2, 2], "strokeWidth": 1},
            "encoding": {"y": {"field": "v", "type": "quantitative", "scale": {"domain": [0, 8], "nice": false, "zero": false}, "axis": null}}},
           {"data": {"name": "bl"}, "mark": {"type": "line", "strokeWidth": 2.4},
            "encoding": {
              "x": {"field": "t", "type": "quantitative", "scale": {"domain": [0, 10], "nice": false, "zero": false}, "axis": null},
              "y": {"field": "v", "type": "quantitative", "scale": {"domain": [0, 8], "nice": false, "zero": false}, "axis": null},
              "color": {"field": "s", "type": "nominal", "scale": {"domain": ["VDRIVE", "VGS", "VDS", "ID"], "range": ["#5fae3c", "#e2e24a", "#5cbfd8", "#a8349e"]}, "legend": null}}},
           {"data": {"values": [{"t": 4.13, "v": 7.88}]}, "mark": {"type": "point", "shape": "triangle-down", "filled": true, "color": "#e07a2e", "opacity": 1, "size": 30},
            "encoding": {
              "x": {"field": "t", "type": "quantitative", "scale": {"domain": [0, 10], "nice": false, "zero": false}, "axis": null},
              "y": {"field": "v", "type": "quantitative", "scale": {"domain": [0, 8], "nice": false, "zero": false}, "axis": null}}},
           {"data": {"values": [{"t": 5.53, "v": 7.3, "text": "Turn-off"}]}, "mark": {"type": "text", "fontSize": 18, "fontWeight": "bold"},
            "encoding": {
              "x": {"field": "t", "type": "quantitative", "scale": {"domain": [0, 10], "nice": false, "zero": false}, "axis": null},
              "y": {"field": "v", "type": "quantitative", "scale": {"domain": [0, 8], "nice": false, "zero": false}, "axis": null},
              "text": {"field": "text"}}},
           {"data": {"values": [{"t": 7.14, "v": 0.14, "text": "20 ns/div"}]}, "mark": {"type": "text", "fontSize": 18},
            "encoding": {
              "x": {"field": "t", "type": "quantitative", "scale": {"domain": [0, 10], "nice": false, "zero": false}, "axis": null},
              "y": {"field": "v", "type": "quantitative", "scale": {"domain": [0, 8], "nice": false, "zero": false}, "axis": null},
              "text": {"field": "text"}}}
         ]},
        {"width": 322, "height": 296,
         "title": {"text": "Simulation"},
         "view": {"stroke": "#8a8a8a", "strokeWidth": 1.5},
         "layer": [
           {"data": {"name": "br"}, "mark": {"type": "line", "strokeWidth": 2},
            "encoding": {
              "x": {"field": "t", "type": "quantitative", "scale": {"domain": [0, 10], "nice": false, "zero": false}, "axis": {"title": null, "values": [1, 2, 3, 4, 5, 6, 7, 8, 9], "grid": true, "gridColor": "#a9a9a9", "gridDash": [3, 2], "gridWidth": 1}},
              "y": {"field": "v", "type": "quantitative", "scale": {"domain": [0, 8], "nice": false, "zero": false}, "axis": {"title": null, "values": [1, 2, 3, 4, 5, 6, 7], "grid": true, "gridColor": "#a9a9a9", "gridDash": [3, 2], "gridWidth": 1}},
              "color": {"field": "s", "type": "nominal", "scale": {"domain": ["VDRIVE", "VGS", "VDS", "ID"], "range": ["#5fae3c", "#e2e24a", "#5cbfd8", "#a8349e"]}, "legend": null}}},
           {"data": {"values": [{"t": 5.43, "v": 7.32, "text": "Turn-off"}]}, "mark": {"type": "text", "fontSize": 18, "fontWeight": "bold"},
            "encoding": {
              "x": {"field": "t", "type": "quantitative", "scale": {"domain": [0, 10], "nice": false, "zero": false}, "axis": null},
              "y": {"field": "v", "type": "quantitative", "scale": {"domain": [0, 8], "nice": false, "zero": false}, "axis": null},
              "text": {"field": "text"}}},
           {"data": {"values": [{"t": 7.14, "v": 0.14, "text": "20 ns/div"}]}, "mark": {"type": "text", "fontSize": 18},
            "encoding": {
              "x": {"field": "t", "type": "quantitative", "scale": {"domain": [0, 10], "nice": false, "zero": false}, "axis": null},
              "y": {"field": "v", "type": "quantitative", "scale": {"domain": [0, 8], "nice": false, "zero": false}, "axis": null},
              "text": {"field": "text"}}}
         ]}
      ]}
    ]}
  ]}
]
}
